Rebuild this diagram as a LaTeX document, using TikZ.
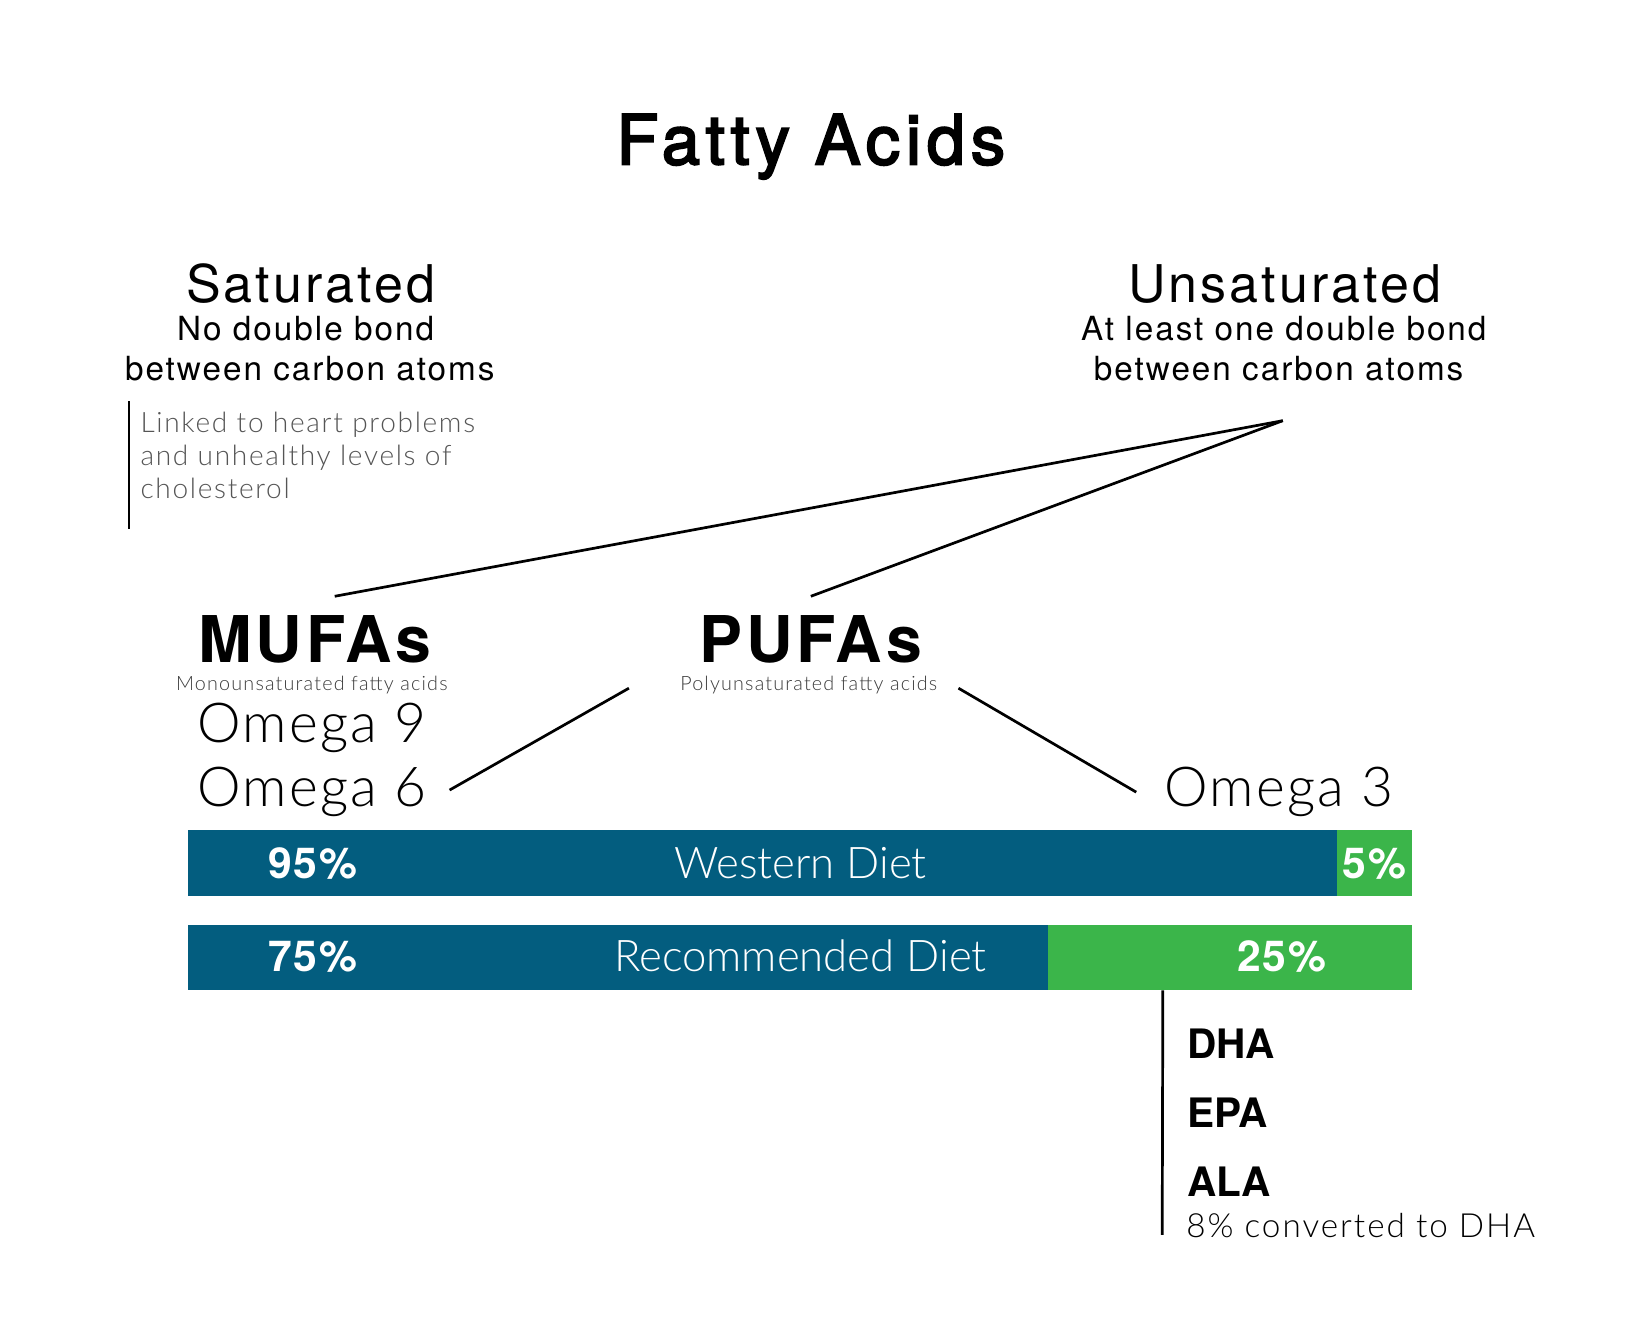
\documentclass[tikz,border=0pt]{standalone}
\usepackage{fontspec}
\setmainfont{TeX Gyre Heros}
\newfontfamily\titlefont{TeX Gyre Heros}[LetterSpace=8.5,FakeBold=3]
\newfontfamily\widefont{TeX Gyre Heros}[LetterSpace=6]
\newfontfamily\pctfont{TeX Gyre Heros}[LetterSpace=4]
\newfontfamily\thinplain{Lato Light}
\newfontfamily\thinfont{Lato Light}[LetterSpace=4]
\newfontfamily\thinwide{Lato Light}[LetterSpace=6]
\definecolor{dietblue}{HTML}{035D7F}
\definecolor{omegagreen}{HTML}{3BB54A}
\definecolor{notegray}{HTML}{555555}
\newcommand{\fsz}[1]{\fontsize{#1}{#1}\selectfont}

\begin{document}
\begin{tikzpicture}[x=1pt,y=-1pt,
    lbl/.style={inner sep=0pt,anchor=base},
    link/.style={line width=2.6pt},
    dietbar/.style={inner sep=0pt,minimum height=63pt,anchor=west},
    pct/.style={lbl,font=\pctfont\bfseries\fsz{41},text=white}]
  \useasboundingbox (0,0) rectangle (1568,1277);

  % title
  \node[lbl,font=\titlefont\fsz{66}] (title) at (780,158) {Fatty Acids};

  % saturated / unsaturated
  \node[lbl,font=\widefont\fsz{50}] (sat) at (299,291) {Saturated};
  \node[lbl,font=\widefont\fsz{32}] (satA) at (294,328) {No double bond};
  \node[lbl,font=\widefont\fsz{32}] (satB) at (298,366) {between carbon atoms};
  \node[lbl,font=\widefont\fsz{50}] (unsat) at (1236,291) {Unsaturated};
  \node[lbl,font=\widefont\fsz{32}] (unsatA) at (1235,328) {At least one double bond};
  \node[lbl,font=\widefont\fsz{32}] (unsatB) at (1230,366) {between carbon atoms};

  % note on saturated
  \node[lbl,anchor=base west,font=\thinwide\fsz{27},text=notegray] (noteA) at (135,416) {Linked to heart problems};
  \node[lbl,anchor=base west,font=\thinwide\fsz{27},text=notegray] (noteB) at (135,448) {and unhealthy levels of};
  \node[lbl,anchor=base west,font=\thinwide\fsz{27},text=notegray] (noteC) at (135,480) {cholesterol};
  \draw[link] ([xshift=-11pt,yshift=10pt]noteA.north west) -- ([xshift=-11pt,yshift=-28pt]noteC.south west);

  % MUFAs and PUFAs
  \node[lbl,font=\widefont\bfseries\fsz{62}] (mufa) at (303,637) {MUFAs};
  \node[lbl,font=\thinwide\fsz{19},text=notegray!70!black] (mufaSub) at (300,664) {Monounsaturated fatty acids};
  \node[lbl,font=\widefont\bfseries\fsz{62}] (pufa) at (780,637) {PUFAs};
  \node[lbl,font=\thinwide\fsz{19},text=notegray!70!black] (pufaSub) at (778,664) {Polyunsaturated fatty acids};

  \coordinate (hub) at ([xshift=4pt,yshift=-38pt]unsatB.south);
  \draw[link] (hub) -- ([xshift=19pt,yshift=18pt]mufa.north);
  \draw[link] (hub) -- ([yshift=18pt]pufa.north);

  % omegas
  \node[lbl,anchor=base west,font=\thinfont\fsz{53}] (om9) at (190,714) {Omega 9};
  \node[lbl,anchor=base west,font=\thinfont\fsz{53}] (om6) at (190,776) {Omega 6};
  \node[lbl,anchor=base west,font=\thinfont\fsz{53}] (om3) at (1120,776) {Omega 3};
  \draw[link] ([xshift=-173pt,yshift=2pt]pufaSub.base) -- ([xshift=22pt,yshift=16pt]om6.base east);
  \draw[link] ([xshift=144pt,yshift=2pt]pufaSub.base) -- ([xshift=-27pt,yshift=14pt]om3.base west);

  % diet bars
  \node[dietbar,fill=dietblue,minimum width=1105pt] (westBlue) at (181,830) {};
  \node[dietbar,fill=omegagreen,minimum width=72pt] (westGreen) at (westBlue.east) {};
  \node[pct] (westPctA) at (301,845) {95\%};
  \node[lbl,font=\thinplain\fsz{42},text=white] (westName) at (770,845) {Western Diet};
  \node[pct] (westPctB) at (1322,845) {5\%};

  \node[dietbar,fill=dietblue,minimum width=827pt] (recBlue) at (181,921) {};
  \node[dietbar,fill=omegagreen,minimum width=350pt] (recGreen) at (recBlue.east) {};
  \node[pct] (recPctA) at (301,935) {75\%};
  \node[lbl,font=\thinplain\fsz{42},text=white] (recName) at (770,935) {Recommended Diet};
  \node[pct] (recPctB) at (1233,935) {25\%};

  % omega 3 kinds
  \node[lbl,anchor=base west,font=\bfseries\fsz{39}] (dha) at (1142,1018) {DHA};
  \node[lbl,anchor=base west,font=\bfseries\fsz{39}] (epa) at (1142,1085) {EPA};
  \node[lbl,anchor=base west,font=\bfseries\fsz{39}] (ala) at (1142,1151) {ALA};
  \node[lbl,anchor=base west,font=\thinwide\fsz{32}] (conv) at (1141,1190) {8\% converted to DHA};
  \draw[link] ([xshift=-65pt]recGreen.south) -- ([xshift=-23pt,yshift=2pt]conv.base west);
\end{tikzpicture}
\end{document}
